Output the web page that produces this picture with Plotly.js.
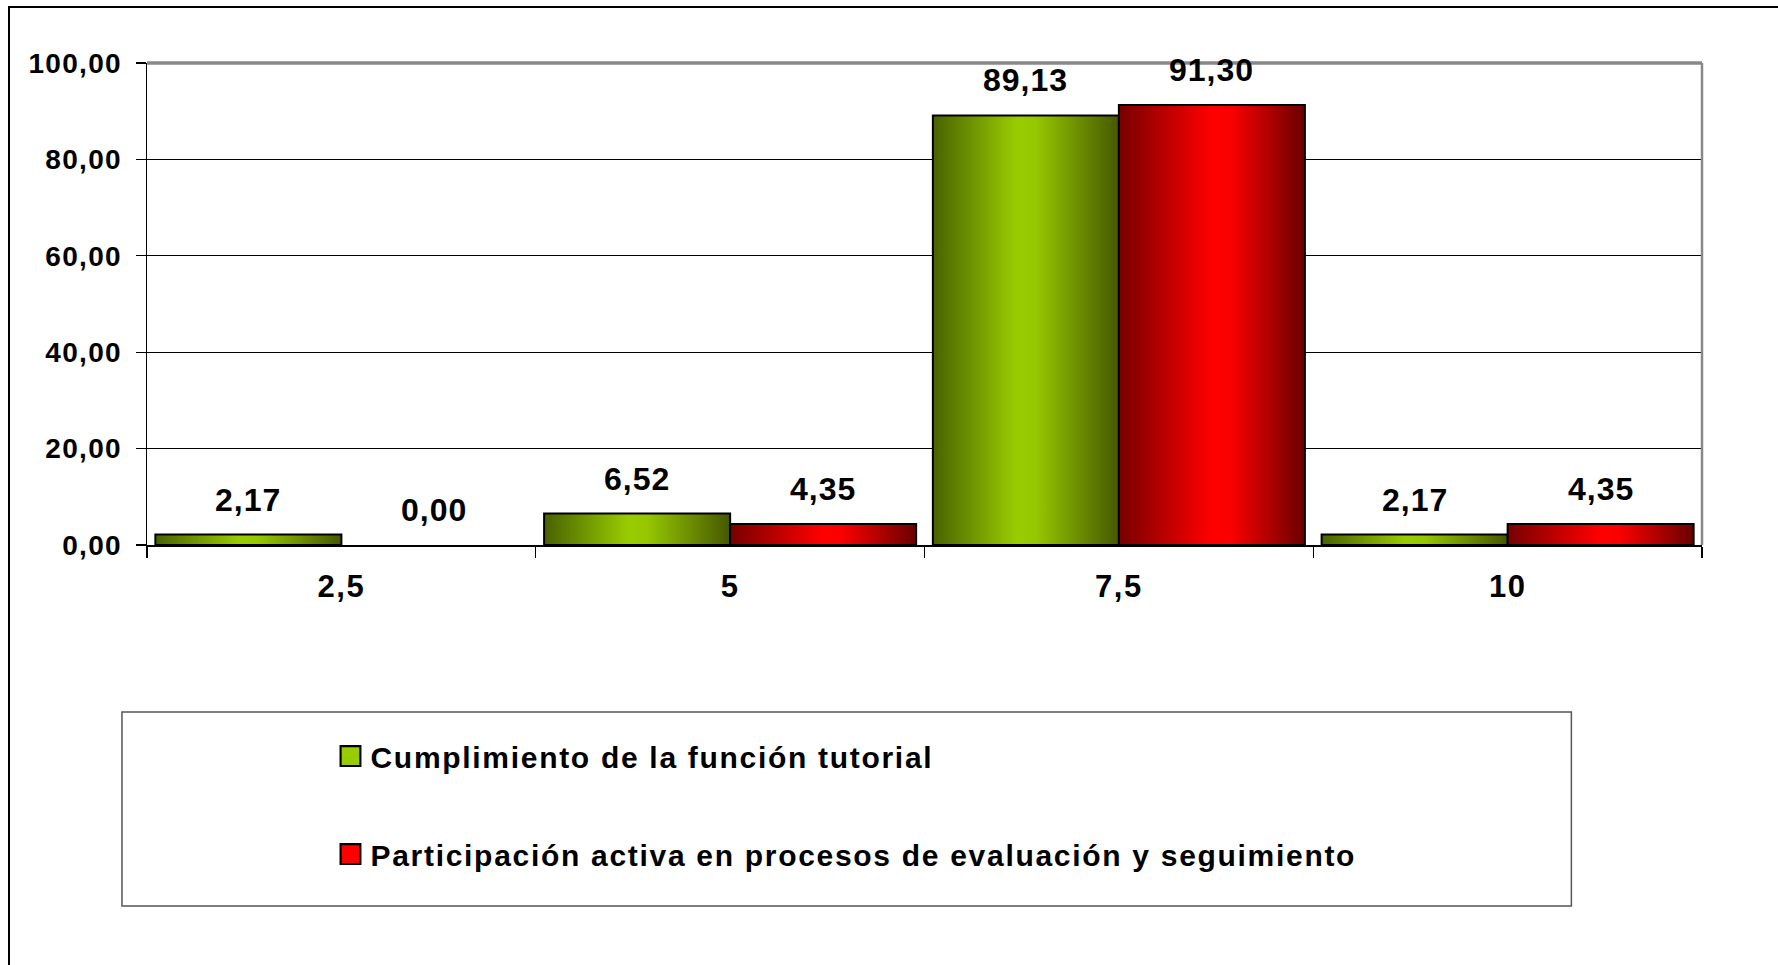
<!DOCTYPE html>
<html>
<head>
<meta charset="utf-8">
<script src="https://cdn.plot.ly/plotly-3.0.1.min.js"></script>
<style>
  html, body { margin: 0; padding: 0; background: #fff; }
  #wrap { position: relative; width: 1778px; height: 965px; overflow: hidden; }
  #chart { position: absolute; left: 0; top: 0; width: 1778px; height: 965px; }
  #frame { position: absolute; left: 8px; top: 6px; width: 1800px; height: 1000px;
           border-left: 2px solid #000; border-top: 2px solid #000; pointer-events: none; }
  .legendtext { letter-spacing: 1.7px; }
  .xtick text { letter-spacing: 1.5px; }
  .ytick text { letter-spacing: 1.3px; }
  .annotation-text { letter-spacing: 1px; }
</style>
</head>
<body>
<div id="wrap">
  <div id="chart"></div>
  <div id="frame"></div>
</div>
<script>
// ---- data ----
const categories = ["2,5", "5", "7,5", "10"];
const seriesNames = [
  "Cumplimiento de la función tutorial",
  "Participación activa en procesos de evaluación y seguimiento"
];
const cumplimiento = [2.17, 6.52, 89.13, 2.17];
const participacion = [0.00, 4.35, 91.30, 4.35];
const yTicks = [0, 20, 40, 60, 80, 100];

// ---- styling ----
const FONT = "Liberation Sans, Arial, sans-serif";
const colors = ["#99cc00", "#ff0000"];
const BARGAP = 0.043;
const series = [cumplimiento, participacion];

const traces = series.map((vals, k) => ({
  type: "bar",
  name: seriesNames[k],
  x: categories,
  y: vals,
  legendgroup: "g" + k,
  marker: {
    color: colors[k],
    line: { color: "#000", width: vals.map(v => (v === 0 ? 0 : 2)) }
  },
  hoverinfo: "skip"
}));

const fmt = v => v.toFixed(2).replace(".", ",");
const half = (1 - BARGAP) / 4;
const annotations = [];
series.forEach((vals, k) => {
  vals.forEach((v, i) => {
    annotations.push({
      x: i + (k === 0 ? -half : half),
      y: v,
      xref: "x", yref: "y",
      text: fmt(v),
      showarrow: false,
      yanchor: "middle",
      yshift: 35,
      font: { family: FONT, size: 32, color: "#000", weight: "bold" }
    });
  });
});

const layout = {
  width: 1778, height: 965,
  margin: { l: 147, r: 76, t: 63, b: 420 },
  paper_bgcolor: "#fff", plot_bgcolor: "#fff",
  separators: ",.",
  barmode: "group",
  bargap: BARGAP,
  bargroupgap: 0,
  showlegend: true,
  font: { family: FONT, color: "#000" },
  xaxis: {
    type: "category",
    showgrid: false,
    showline: true, linecolor: "#000", linewidth: 1.5,
    ticks: "outside", ticklen: 11, tickwidth: 1.2, tickcolor: "#000",
    tickson: "boundaries",
    ticklabelstandoff: 13,
    tickfont: { family: FONT, size: 31, color: "#000", weight: "bold" },
    zeroline: false
  },
  yaxis: {
    range: [0, 100],
    tickvals: yTicks,
    tickformat: ".2f",
    showgrid: true, gridcolor: "#000", gridwidth: 1,
    showline: true, linecolor: "#000", linewidth: 1.5,
    ticks: "outside", ticklen: 10, tickwidth: 1.2, tickcolor: "#000",
    ticklabelstandoff: 8,
    tickfont: { family: FONT, size: 28, color: "#000", weight: "bold" },
    zeroline: false
  },
  legend: {
    x: 0.118, xanchor: "left",
    y: -0.384, yanchor: "top",
    bgcolor: "rgba(0,0,0,0)",
    borderwidth: 0,
    tracegroupgap: 56,
    font: { family: FONT, size: 30, color: "#000", weight: "bold" }
  },
  shapes: [
    { type: "line", xref: "paper", yref: "paper", x0: 0, x1: 1, y0: 1, y1: 1,
      line: { color: "#888", width: 3.5 }, layer: "above" },
    { type: "line", xref: "paper", yref: "paper", x0: 1, x1: 1, y0: 0, y1: 1,
      line: { color: "#888", width: 2.5 }, layer: "above" },
    { type: "rect", xref: "paper", yref: "paper",
      x0: -0.0161, x1: 0.916, y0: -0.749, y1: -0.3465,
      line: { color: "#555", width: 1.5 }, fillcolor: "rgba(0,0,0,0)", layer: "below" }
  ],
  annotations: annotations
};

Plotly.newPlot("chart", traces, layout, { displayModeBar: false, staticPlot: true }).then(gd => {
  const svg = gd.querySelector("svg.main-svg");
  const NS = "http://www.w3.org/2000/svg";
  let defs = svg.querySelector("defs");
  if (!defs) { defs = document.createElementNS(NS, "defs"); svg.insertBefore(defs, svg.firstChild); }
  const grads = [
    { id: "gradGreen", stops: [[0, "#486200"], [0.45, "#99cc00"], [0.55, "#96c800"], [1, "#465800"]] },
    { id: "gradRed", stops: [[0, "#780000"], [0.5, "#ff0000"], [0.6, "#fa0000"], [1, "#6a0000"]] }
  ];
  grads.forEach(g => {
    const lg = document.createElementNS(NS, "linearGradient");
    lg.setAttribute("id", g.id);
    lg.setAttribute("x1", "0"); lg.setAttribute("x2", "1");
    lg.setAttribute("y1", "0"); lg.setAttribute("y2", "0");
    g.stops.forEach(s => {
      const st = document.createElementNS(NS, "stop");
      st.setAttribute("offset", s[0]);
      st.setAttribute("stop-color", s[1]);
      lg.appendChild(st);
    });
    defs.appendChild(lg);
  });
  const barTraces = gd.querySelectorAll(".barlayer .trace");
  barTraces.forEach((t, k) => {
    t.querySelectorAll("path").forEach(p => {
      p.style.fill = "url(#" + grads[k].id + ")";
    });
  });
  // enlarge legend swatches (keep Plotly's own translate), always outlined
  gd.querySelectorAll(".legend .legendpoints path").forEach(p => {
    const t = p.getAttribute("transform") || "";
    p.setAttribute("transform", (t + " scale(1.65)").trim());
    p.style.stroke = "#000";
    p.style.strokeWidth = "1.3px";
  });
});
</script>
</body>
</html>
